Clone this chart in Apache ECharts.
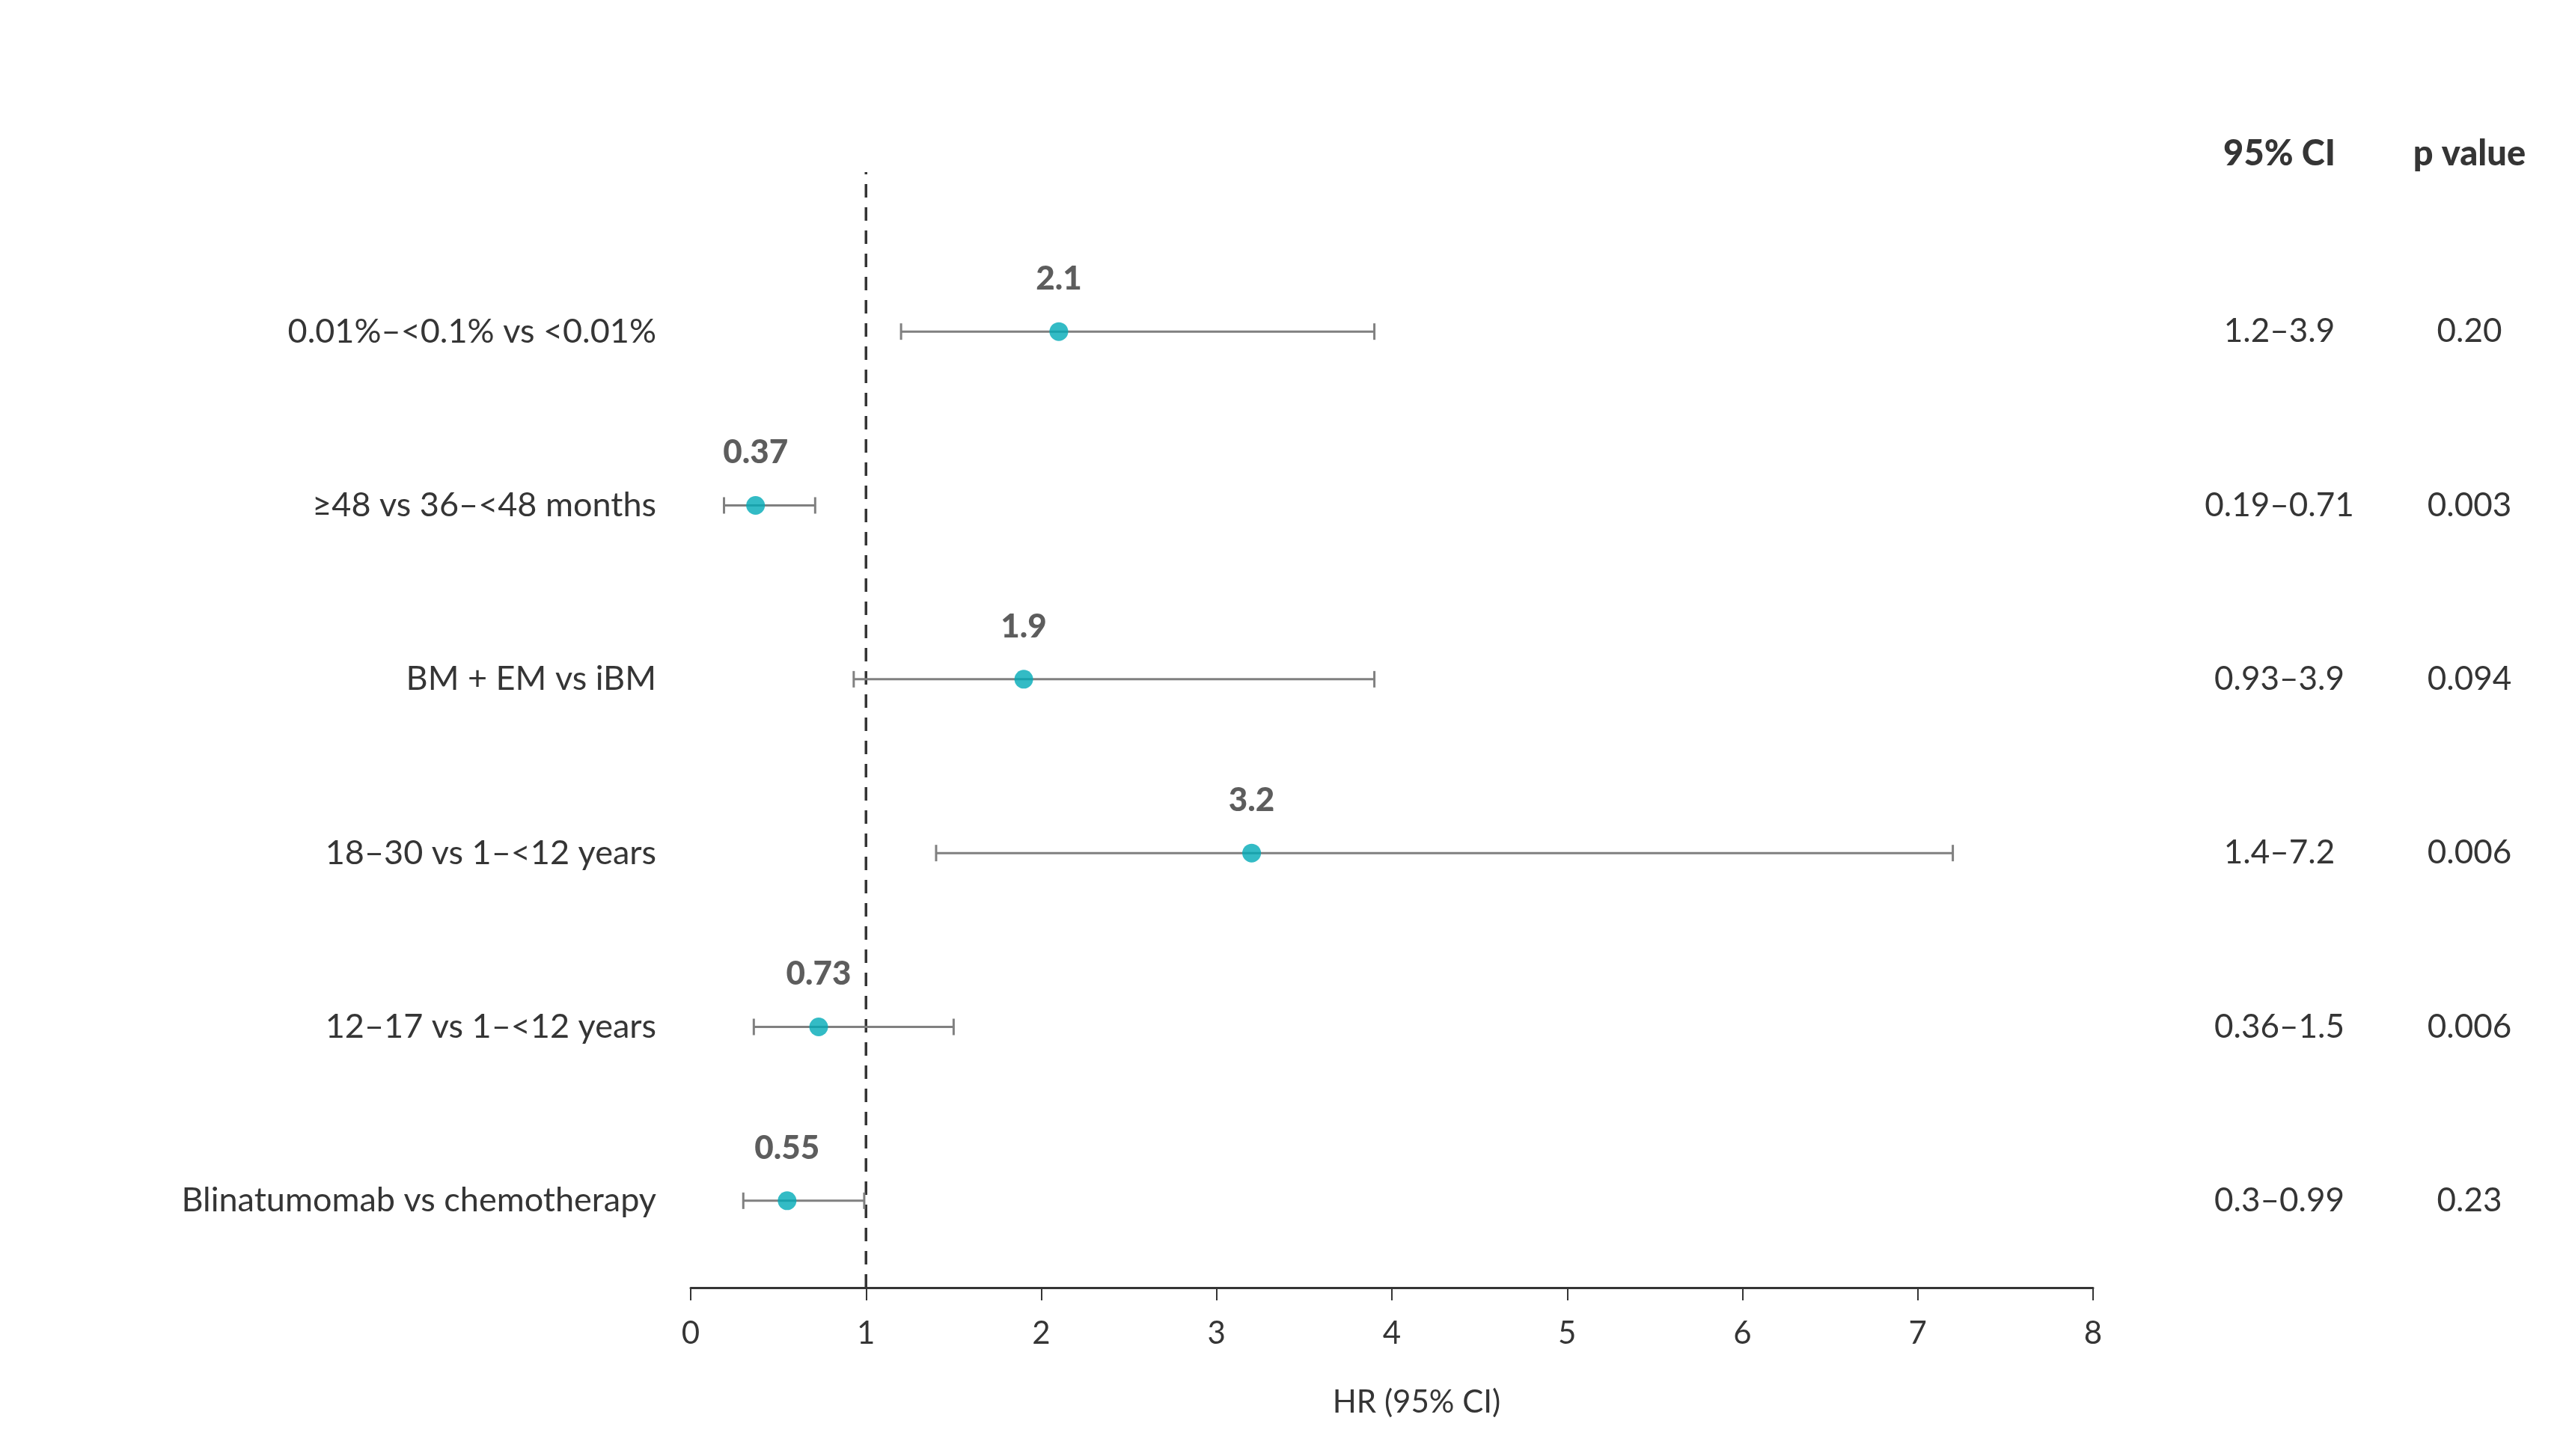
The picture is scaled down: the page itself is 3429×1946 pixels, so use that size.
<!DOCTYPE html>
<html>
<head>
<meta charset="utf-8">
<script src="https://cdn.jsdelivr.net/npm/echarts@6/dist/echarts.min.js"></script>
<style>
html,body{margin:0;padding:0;background:#fff;}
#chart{width:3429px;height:1946px;}
</style>
</head>
<body>
<div id="chart"></div>
<script>
// ---- data ----
const categories = [
  "0.01%\u2013<0.1% vs <0.01%",
  "\u226548 vs 36\u2013<48 months",
  "BM + EM vs iBM",
  "18\u201330 vs 1\u2013<12 years",
  "12\u201317 vs 1\u2013<12 years",
  "Blinatumomab vs chemotherapy"
];
const hrValues = [2.1, 0.37, 1.9, 3.2, 0.73, 0.55];
const ciLow    = [1.2, 0.19, 0.93, 1.4, 0.36, 0.3];
const ciHigh   = [3.9, 0.71, 3.9, 7.2, 1.5, 0.99];
const ciText   = ["1.2\u20133.9", "0.19\u20130.71", "0.93\u20133.9", "1.4\u20137.2", "0.36\u20131.5", "0.3\u20130.99"];
const pText    = ["0.20", "0.003", "0.094", "0.006", "0.006", "0.23"];
const xTicks   = [0, 1, 2, 3, 4, 5, 6, 7, 8];
const refValue = 1;
const xAxisName = "HR (95% CI)";
const colHeaders = ["95% CI", "p value"];

// ---- chart ----
const FONT = "Lato";
const TXT = "#353535";
const chart = echarts.init(document.getElementById('chart'), null, {renderer: 'canvas'});

const scatterData = hrValues.map((v, i) => [v, i]);
const errData = ciLow.map((lo, i) => [lo, ciHigh[i], i]);
const rightLabels = ciText.map((c, i) => '{ci|' + c + '}{p|' + pText[i] + '}');

const option = {
  backgroundColor: '#ffffff',
  animation: false,
  textStyle: {fontFamily: FONT},
  graphic: [
    {type: 'text', x: 3046, y: 206, style: {text: colHeaders[0], fontFamily: FONT, fontWeight: 900, fontSize: 47, fill: TXT, align: 'center', verticalAlign: 'middle'}},
    {type: 'text', x: 3300, y: 206, style: {text: colHeaders[1], fontFamily: FONT, fontWeight: 900, fontSize: 47, fill: TXT, align: 'center', verticalAlign: 'middle'}}
  ],
  grid: [
    {left: 923, right: 632, top: 327, bottom: 225},
    {left: 923, right: 632, top: 230, bottom: 225}
  ],
  xAxis: [
    {
      type: 'value', gridIndex: 0, min: xTicks[0], max: xTicks[xTicks.length - 1], interval: 1,
      name: xAxisName, nameLocation: 'middle', nameGap: 132,
      nameTextStyle: {fontFamily: FONT, fontSize: 42, color: TXT, padding: [0, 0, 0, 66]},
      axisLine: {show: true, lineStyle: {color: TXT, width: 3}},
      axisTick: {show: true, length: 17, lineStyle: {color: TXT, width: 2}},
      axisLabel: {margin: 40, fontFamily: FONT, fontSize: 42, color: TXT},
      splitLine: {show: false}
    },
    {
      type: 'value', gridIndex: 1, min: xTicks[0], max: xTicks[xTicks.length - 1],
      show: false
    }
  ],
  yAxis: [
    {
      type: 'category', gridIndex: 0, data: categories, inverse: true,
      axisLine: {show: false}, axisTick: {show: false},
      axisLabel: {margin: 46, fontFamily: FONT, fontSize: 45, color: TXT, align: 'right'},
      splitLine: {show: false}
    },
    {
      type: 'category', gridIndex: 0, data: rightLabels, inverse: true, position: 'right',
      axisLine: {show: false}, axisTick: {show: false},
      axisLabel: {
        margin: 49, align: 'left', fontFamily: FONT, fontSize: 44, color: TXT,
        formatter: v => v,
        rich: {
          ci: {width: 400, align: 'center', fontFamily: FONT, fontSize: 44, color: TXT},
          p: {width: 108, align: 'center', fontFamily: FONT, fontSize: 44, color: TXT}
        }
      },
      splitLine: {show: false}
    },
    {
      type: 'value', gridIndex: 1, min: 0, max: 1, show: false
    }
  ],
  series: [
    {
      type: 'line', xAxisIndex: 1, yAxisIndex: 2,
      data: [[refValue, 0], [refValue, 1]],
      symbol: 'none', silent: true, z: 1,
      lineStyle: {color: TXT, width: 3.5, type: [18, 13]}
    },
    {
      type: 'custom', xAxisIndex: 0, yAxisIndex: 0, z: 2,
      renderItem: function (params, api) {
        const y = api.value(2);
        const p1 = api.coord([api.value(0), y]);
        const p2 = api.coord([api.value(1), y]);
        const cap = 11;
        const st = {stroke: '#808080', lineWidth: 3, fill: null};
        return {
          type: 'group',
          children: [
            {type: 'line', shape: {x1: p1[0], y1: p1[1], x2: p2[0], y2: p2[1]}, style: st},
            {type: 'line', shape: {x1: p1[0], y1: p1[1] - cap, x2: p1[0], y2: p1[1] + cap}, style: st},
            {type: 'line', shape: {x1: p2[0], y1: p2[1] - cap, x2: p2[0], y2: p2[1] + cap}, style: st}
          ]
        };
      },
      encode: {x: [0, 1], y: 2},
      data: errData
    },
    {
      type: 'scatter', xAxisIndex: 0, yAxisIndex: 0, z: 3,
      symbol: 'circle', symbolSize: 25,
      itemStyle: {color: '#00AAB6'},
      label: {
        show: true, position: 'top', distance: 36,
        fontFamily: FONT, fontWeight: 900, fontSize: 44, color: TXT,
        formatter: p => String(p.value[0])
      },
      data: scatterData
    }
  ]
};
chart.setOption(option);
</script>
</body>
</html>
